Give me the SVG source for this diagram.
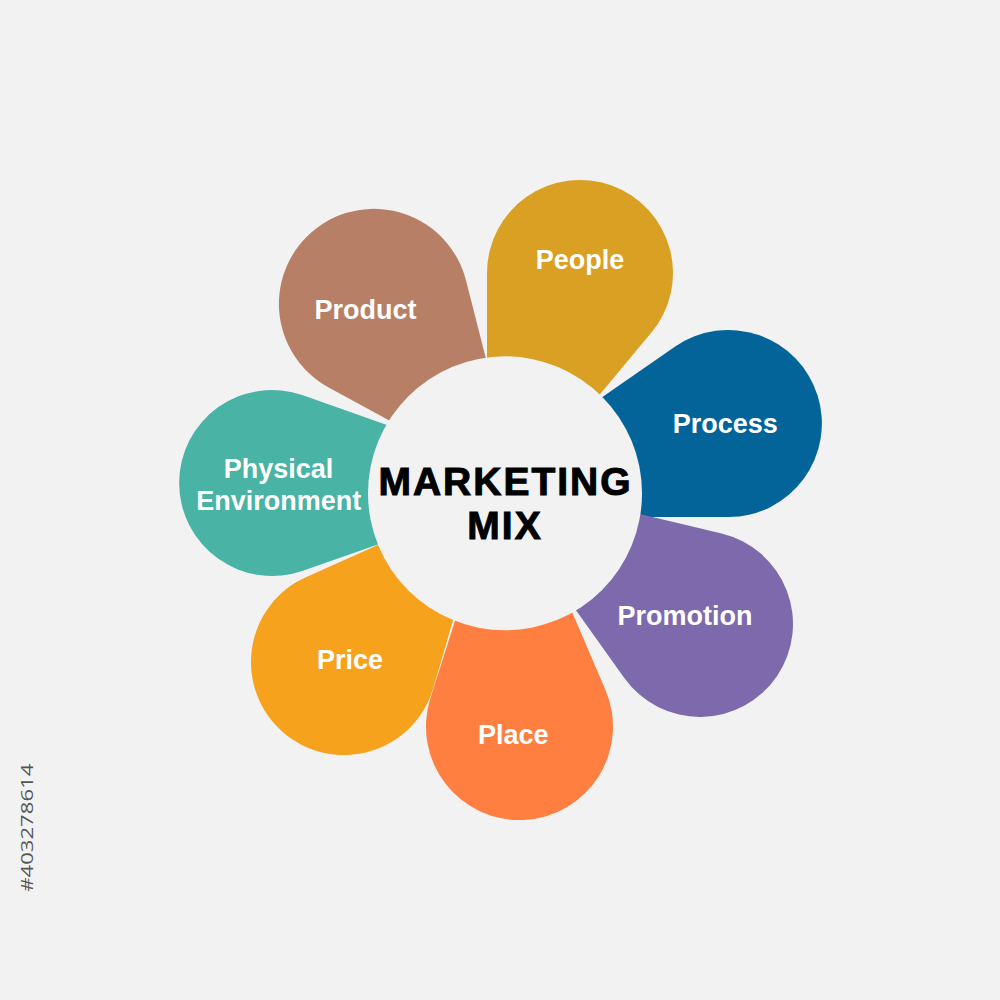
<svg xmlns="http://www.w3.org/2000/svg" width="1000" height="1000" viewBox="0 0 1000 1000">
<style>
.lbl{font-family:"Liberation Sans",Arial,sans-serif;font-weight:bold;font-size:27px;fill:#ffffff;text-anchor:middle}
.title{font-family:"Liberation Sans",Arial,sans-serif;font-weight:bold;font-size:39px;fill:#000;stroke:#000;stroke-width:1;letter-spacing:2px;text-anchor:middle}
.id{font-family:"Open Sans","Liberation Sans",sans-serif;font-size:17px;fill:#555}
</style>
<rect x="0" y="0" width="1000" height="1000" fill="#f2f2f2"/>
<g id="product"><path d="M486.7,473.4 L328.7,387.4 A95,95 0 1 1 466,280.5 L498.2,406.5 Z" fill="#b77f66"/><text class="lbl" x="365.5" y="319">Product</text></g>
<g id="people"><path d="M487,470 L487,273 A93,93 0 1 1 651.4,332.6 L523.4,486.2 Z" fill="#d9a024"/><text class="lbl" x="580" y="269">People</text></g>
<g id="process"><path d="M494.4,471.8 L675.2,346.6 A93.5,93.5 0 1 1 728.5,517 L488.5,517 Z" fill="#036499"/><text class="lbl" x="725.3" y="433">Process</text></g>
<g id="promotion"><path d="M497.8,480.1 L721.6,533.5 A93,93 0 1 1 624.3,678 L496.5,498.9 Z" fill="#7d6aac"/><text class="lbl" x="685" y="625">Promotion</text></g>
<g id="place"><path d="M514.8,478.3 L605.4,689.7 A93.5,93.5 0 1 1 430.4,698.2 L500.1,479 Z" fill="#ff7f41"/><text class="lbl" x="513.3" y="744">Place</text></g>
<g id="price"><path d="M497.7,467.2 L433.3,688 A93,93 0 1 1 305.9,577.2 L515.9,483.1 Z" fill="#f6a21d"/><text class="lbl" x="350" y="669">Price</text></g>
<g id="physical-environment"><path d="M510.5,497.9 L303,570.7 A93,93 0 1 1 302.9,395.2 L491.5,462 Z" fill="#49b3a5"/><text class="lbl" x="278.5" y="477.5">Physical</text><text class="lbl" x="278.8" y="510">Environment</text></g>
<g id="marketing-mix"><circle cx="505" cy="493.3" r="137" fill="#f2f2f2"/><text class="title" x="505.5" y="495">MARKETING</text><text class="title" x="505" y="539.3">MIX</text></g>
<text class="id" transform="translate(33,891.7) rotate(-90)" textLength="128" lengthAdjust="spacingAndGlyphs">#403278614</text>
</svg>
